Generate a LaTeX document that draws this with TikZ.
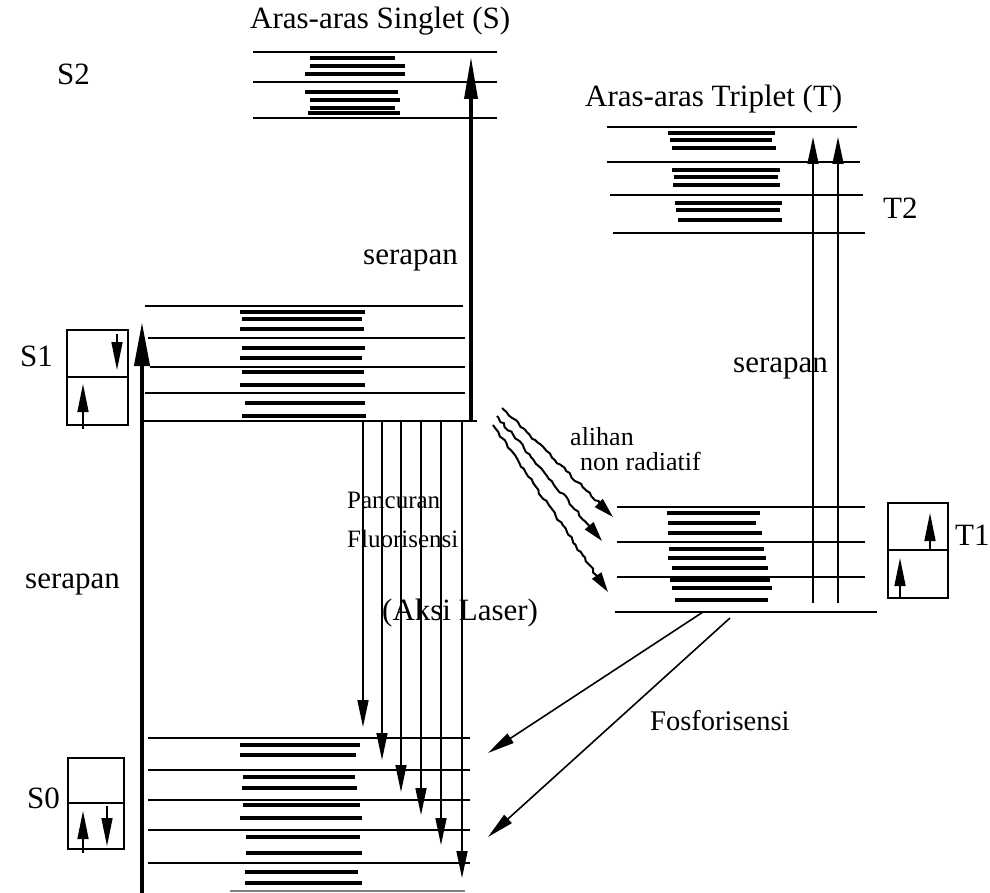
\documentclass[tikz,border=0pt]{standalone}
\usepackage{fontspec}
\setmainfont{Liberation Serif}
\usetikzlibrary{arrows.meta,decorations.pathmorphing}
\begin{document}
\begin{tikzpicture}[x=1pt,y=-1pt,
  thinlvl/.style={line width=1.4pt},
  thicklvl/.style={line width=2.5pt},
  sublvl/.style={line width=3.4pt},
  boxline/.style={line width=2.4pt},
  lbl/.style={inner sep=0pt,anchor=base west,font=\fontsize{31}{36}\selectfont},
  smalllbl/.style={inner sep=0pt,anchor=base west,font=\fontsize{26}{30}\selectfont},
  bigarrow/.style={line width=4pt,-{Triangle[length=44pt,width=15pt]}},
  midarrow/.style={line width=3.4pt,-{Triangle[length=42pt,width=13pt]}},
  thinarrow/.style={line width=1.6pt,-{Triangle[length=27pt,width=11pt]}},
  spinarrow/.style={line width=1.5pt,-{Triangle[length=28pt,width=11pt]}},
  wavy/.style={line width=2pt,-{Triangle[length=20pt,width=11pt]},decorate,
    decoration={random steps,segment length=4pt,amplitude=1.3pt,pre length=2pt,post length=16pt}}
]
\pgfmathsetseed{7}
\useasboundingbox (0,0) rectangle (990,893);

% ---------- titles and labels ----------
\node[lbl] (tsing) at (250,29) {Aras-aras Singlet (S)};
\node[lbl] (ttrip) at (585,107) {Aras-aras Triplet (T)};
\node[lbl] (ls2) at (57,85) {S2};
\node[lbl] (ls1) at (20,366) {S1};
\node[lbl] (ls0) at (27,808) {S0};
\node[lbl] (lt2) at (883,219) {T2};
\node[lbl] (lt1) at (955,545) {T1};
\node[lbl] (ser1) at (25,588) {serapan};
\node[lbl] (ser2) at (363,265) {serapan};
\node[lbl] (ser3) at (733,372) {serapan};
\node[smalllbl,font=\fontsize{25}{30}\selectfont] (panc) at (347,508) {Pancuran};
\node[smalllbl,font=\fontsize{25}{30}\selectfont] (fluo) at (347,547) {Fluorisensi};
\node[lbl] (aksi) at (382,620) {(Aksi Laser)};
\node[smalllbl] (alih) at (570,445) {alihan};
\node[smalllbl] (nonr) at (580,470) {non radiatif};
\node[lbl,font=\fontsize{28.5}{34}\selectfont] (fosf) at (650,730) {Fosforisensi};

% ---------- S2 levels ----------
\foreach \y in {52,82,118} \draw[thicklvl] (253,\y) -- (497,\y);
\foreach \y/\a/\b in {58/310/395,66/310/405,74/305/405,92/305/398,100/310/400,108/310/395,113/308/400}
  \draw[sublvl] (\a,\y) -- (\b,\y);

% ---------- T2 levels ----------
\draw[thicklvl] (607,127) -- (857,127);
\draw[thicklvl] (607,162) -- (860,162);
\draw[thicklvl] (610,195) -- (863,195);
\draw[thicklvl] (613,233) -- (865,233);
\foreach \y/\a/\b in {133/668/775,140/670/772,148/672/776,170/672/780,177/674/778,185/673/780,203/675/782,210/676/780,220/678/782}
  \draw[sublvl] (\a,\y) -- (\b,\y);

% ---------- S1 levels ----------
\draw[thinlvl] (145,306) -- (463,306);
\draw[thinlvl] (148,338) -- (465,338);
\draw[thinlvl] (150,367) -- (465,367);
\draw[thinlvl] (145,393) -- (465,393);
\draw[line width=2pt] (143,421) -- (477,421);
\foreach \y/\a/\b in {312/240/365,319/242/362,329/240/364,348/242/365,358/240/362,372/242/364,385/240/365,403/245/365,416/242/366}
  \draw[sublvl] (\a,\y) -- (\b,\y);

% ---------- T1 levels ----------
\foreach \y in {507,542,577} \draw[thinlvl] (617,\y) -- (865,\y);
\draw[thicklvl] (615,612) -- (877,612);
\foreach \y/\a/\b in {513/667/760,523/668/756,533/668/762,549/669/764,558/668/766,568/672/768,580/670/770,588/672/772,600/675/768}
  \draw[sublvl] (\a,\y) -- (\b,\y);

% ---------- S0 levels ----------
\foreach \y in {738,770,800,830,863} \draw[thinlvl] (148,\y) -- (470,\y);
\foreach \y/\a/\b in {745/240/360,755/240/356,777/243/355,788/242/357,805/243/360,818/240/362,837/246/360,853/246/362,872/245/358,883/245/362}
  \draw[sublvl] (\a,\y) -- (\b,\y);
\draw[line width=1.2pt,gray] (230,891) -- (465,891);

% ---------- spin boxes ----------
\draw[boxline] (67,330) rectangle (128,425);
\draw[boxline] (67,377) -- (128,377);
\coordinate (s1a0) at (117,334); \coordinate (s1a1) at (117,370);
\coordinate (s1b0) at (83,429); \coordinate (s1b1) at (83,384);
\draw[spinarrow] (s1a0) -- (s1a1);
\draw[spinarrow] (s1b0) -- (s1b1);

\draw[boxline] (68,758) rectangle (124,849);
\draw[boxline] (68,803) -- (124,803);
\coordinate (s0a0) at (83,853); \coordinate (s0a1) at (83,811);
\coordinate (s0b0) at (107,806); \coordinate (s0b1) at (107,846);
\draw[spinarrow] (s0a0) -- (s0a1);
\draw[spinarrow] (s0b0) -- (s0b1);

\draw[boxline] (888,503) rectangle (948,598);
\draw[boxline] (888,550) -- (948,550);
\coordinate (t1a0) at (930,549); \coordinate (t1a1) at (930,513);
\coordinate (t1b0) at (900,598); \coordinate (t1b1) at (900,558);
\draw[spinarrow] (t1a0) -- (t1a1);
\draw[spinarrow] (t1b0) -- (t1b1);

% ---------- absorption arrows ----------
\coordinate (abs0) at (142,893); \coordinate (abs1) at (142,322);
\draw[bigarrow] (abs0) -- (abs1);
\coordinate (abs2) at (471,421); \coordinate (abs3) at (471,57);
\draw[midarrow] (abs2) -- (abs3);
\coordinate (tabs0) at (813,603); \coordinate (tabs1) at (813,137);
\coordinate (tabs2) at (838,603); \coordinate (tabs3) at (838,137);
\draw[thinarrow] (tabs0) -- (tabs1);
\draw[thinarrow] (tabs2) -- (tabs3);

% ---------- fluorescence arrows ----------
\foreach \x/\t [count=\i] in {363/727,382/760,401/792,421/815,441/845,462/878}{
  \coordinate (fl\i a) at (\x,421);
  \coordinate (fl\i b) at (\x,\t);
  \draw[thinarrow] (fl\i a) -- (fl\i b);
}

% ---------- non radiative transfer ----------
\coordinate (nr1a) at (502,408); \coordinate (nr1b) at (613,517);
\coordinate (nr2a) at (497,416); \coordinate (nr2b) at (602,541);
\coordinate (nr3a) at (493,425); \coordinate (nr3b) at (608,592);
\draw[wavy] (nr1a) -- (nr1b);
\draw[wavy] (nr2a) -- (nr2b);
\draw[wavy] (nr3a) -- (nr3b);

% ---------- phosphorescence ----------
\coordinate (ph1a) at (703,612); \coordinate (ph1b) at (488,753);
\coordinate (ph2a) at (730,618); \coordinate (ph2b) at (488,837);
\draw[thinarrow] (ph1a) -- (ph1b);
\draw[thinarrow] (ph2a) -- (ph2b);
\end{tikzpicture}
\end{document}
